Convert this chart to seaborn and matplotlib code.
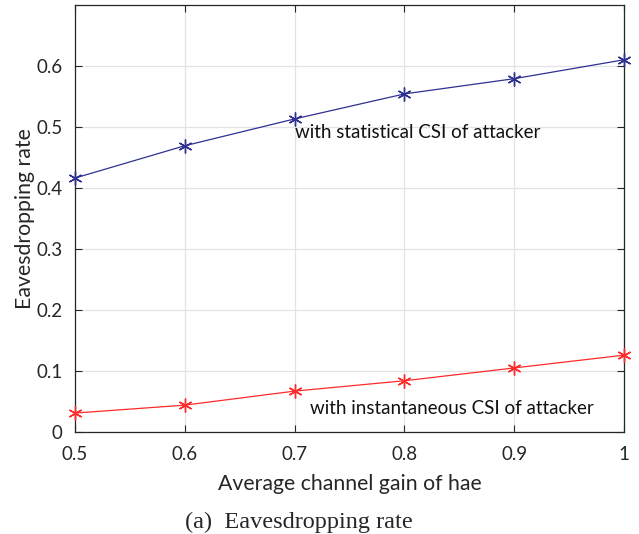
import numpy as np
import pandas as pd
import matplotlib
matplotlib.use('Agg')
import matplotlib.pyplot as plt
import seaborn as sns

gain = [0.5, 0.6, 0.7, 0.8, 0.9, 1.0]
rate_statistical = [0.416, 0.469, 0.513, 0.554, 0.579, 0.610]
rate_instantaneous = [0.031, 0.044, 0.067, 0.084, 0.105, 0.126]
x_ticks = [0.5, 0.6, 0.7, 0.8, 0.9, 1.0]
x_tick_labels = ['0.5', '0.6', '0.7', '0.8', '0.9', '1']
y_ticks = [0, 0.1, 0.2, 0.3, 0.4, 0.5, 0.6]
y_tick_labels = ['0', '0.1', '0.2', '0.3', '0.4', '0.5', '0.6']

df = pd.DataFrame({'gain': gain, 'stat': rate_statistical, 'inst': rate_instantaneous})

sns.set_style('white')
plt.rcParams['font.family'] = ['Lato', 'DejaVu Sans']

fig = plt.figure(figsize=(6.39, 5.34), dpi=100)
ax = fig.add_axes([0.117, 0.191, 0.860, 0.800])

blue = '#2e3192'
red = '#ff2a2a'
for col, c in [('stat', blue), ('inst', red)]:
    sns.lineplot(data=df, x='gain', y=col, ax=ax, color=c, lw=0.9,
                 marker=(6, 2, 0), markersize=10, markeredgewidth=1.0,
                 markeredgecolor=c, clip_on=False, zorder=3)

ax.set_xlim(0.5, 1.0)
ax.set_ylim(0, 0.7)
ax.set_xticks(x_ticks)
ax.set_xticklabels(x_tick_labels)
ax.set_yticks(y_ticks)
ax.set_yticklabels(y_tick_labels)
ax.grid(True, color='#e3e3e3', lw=0.9)
ax.set_axisbelow(True)
ax.tick_params(direction='in', length=5, width=0.8, labelsize=13.5, colors='#262626',
               top=True, right=True, bottom=True, left=True)
ax.tick_params(axis='x', pad=10)
ax.tick_params(axis='y', pad=9)
for s in ax.spines.values():
    s.set_color('#262626')
    s.set_linewidth(0.9)
    s.set_visible(True)

ax.set_xlabel('Average channel gain of hae', fontsize=15.3, color='#262626', labelpad=8)
ax.set_ylabel('Eavesdropping rate', fontsize=15.3, color='#262626', labelpad=1)

ax.text(0.70, 0.490, 'with statistical CSI of attacker', fontsize=13.5, va='center', ha='left', color='#111111')
ax.text(0.714, 0.038, 'with instantaneous CSI of attacker', fontsize=13.5, va='center', ha='left', color='#111111')

fig.text(0.467, 0.022, '(a)  Eavesdropping rate', ha='center', va='center', fontsize=17.5,
         family=['Liberation Serif', 'DejaVu Serif'])

fig.savefig('out.png', dpi=100)
